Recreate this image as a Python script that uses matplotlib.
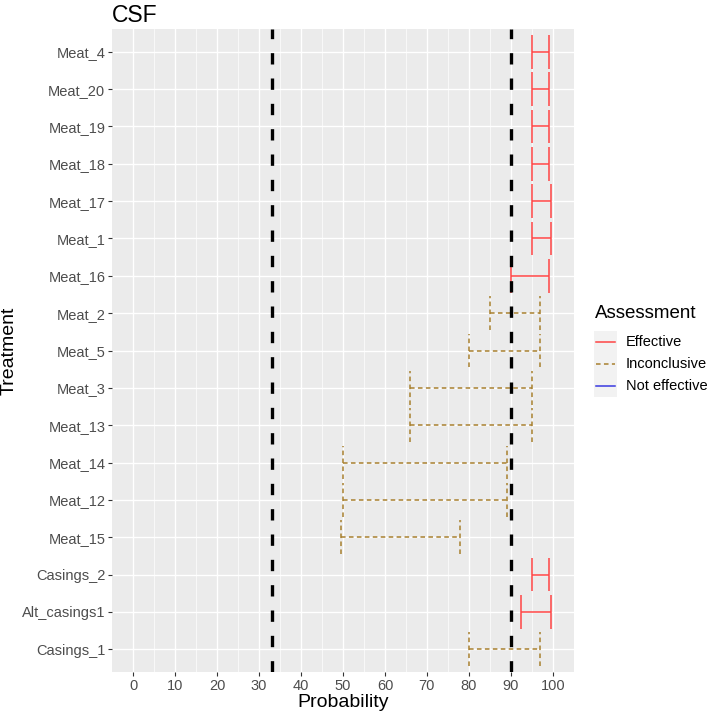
import matplotlib
matplotlib.use("Agg")
import matplotlib.pyplot as plt
from matplotlib.lines import Line2D
from matplotlib.patches import Rectangle

plt.rcParams['font.family'] = ['Liberation Sans', 'DejaVu Sans']

# data, listed top to bottom as in the chart
treatments = ["Meat_4", "Meat_20", "Meat_19", "Meat_18", "Meat_17", "Meat_1",
              "Meat_16", "Meat_2", "Meat_5", "Meat_3", "Meat_13", "Meat_14",
              "Meat_12", "Meat_15", "Casings_2", "Alt_casings1", "Casings_1"]
lower = [95, 95, 95, 95, 95, 95, 90, 85, 80, 66, 66, 50, 50, 49.5, 95, 92.5, 80]
upper = [99, 99, 99, 99, 99.5, 99.5, 99, 97, 97, 95, 95, 89, 89, 78, 99, 99.5, 97]
assessment = ["Effective"] * 7 + ["Inconclusive"] * 7 + ["Effective", "Effective", "Inconclusive"]
thresholds = [33, 90]

levels = ["Effective", "Inconclusive", "Not effective"]
colors = {"Effective": "#FF4545", "Inconclusive": "#A8802F", "Not effective": "#3A3AE0"}
styles = {"Effective": "-", "Inconclusive": (0, (3, 2.2)), "Not effective": "-"}

W, H = 709, 716
fig = plt.figure(figsize=(W / 100, H / 100), dpi=100)
ax = fig.add_axes([112.3 / W, 1 - 671.7 / H, (573.7 - 112.3) / W, (671.7 - 29.3) / H])
ax.set_facecolor("#EBEBEB")
for s in ax.spines.values():
    s.set_visible(False)

n = len(treatments)
ypos = [n - 1 - i for i in range(n)]
cap = 0.45
for y, lo, hi, a in zip(ypos, lower, upper, assessment):
    kw = dict(colors=colors[a], linestyles=[styles[a]], linewidths=1.1, zorder=3)
    ax.hlines([y], [lo], [hi], **kw)
    ax.vlines([lo, hi], y - cap, y + cap, **kw)

for t in thresholds:
    ax.axvline(t, color="black", linewidth=2.4, linestyle=(0, (3.4, 4.2)), zorder=4)

ax.set_xlim(-5, 105)
ax.set_ylim(-0.6, n - 1 + 0.6)
ax.set_xticks(range(0, 101, 10))
ax.set_xticks(range(5, 101, 10), minor=True)
ax.set_yticks(ypos)
ax.set_yticklabels(treatments)
ax.grid(which="major", color="white", linewidth=1.0, zorder=1)
ax.grid(which="minor", axis="x", color="white", linewidth=0.5, zorder=1)
ax.set_axisbelow(True)
ax.tick_params(which="major", length=3, width=0.8, color="#333333",
               labelcolor="#4D4D4D", labelsize=10.5, pad=2)
ax.tick_params(which="minor", length=0)

ax.set_xlabel("Probability", fontsize=14, labelpad=1)
ax.set_ylabel("Treatment", fontsize=14, labelpad=3)
ax.set_title("CSF", loc="left", fontsize=16.5, pad=5)

# legend drawn by hand to mimic ggplot keys
fig.text(595 / W, 1 - 313 / H, "Assessment", fontsize=13.5, va="center", ha="left")
for i, lvl in enumerate(levels):
    yc = 341.7 + 22.3 * i
    fig.patches.append(Rectangle((594 / W, 1 - (yc + 11) / H), 23 / W, 22 / H,
                                 transform=fig.transFigure, facecolor="#F2F2F2",
                                 edgecolor="none"))
    fig.lines.append(Line2D([596 / W, 615 / W], [1 - yc / H] * 2,
                            transform=fig.transFigure, color=colors[lvl],
                            linestyle=styles[lvl], linewidth=1.1))
    fig.text(626 / W, 1 - yc / H, lvl, fontsize=10.5, va="center", ha="left")

fig.savefig("out.png", dpi=100)
